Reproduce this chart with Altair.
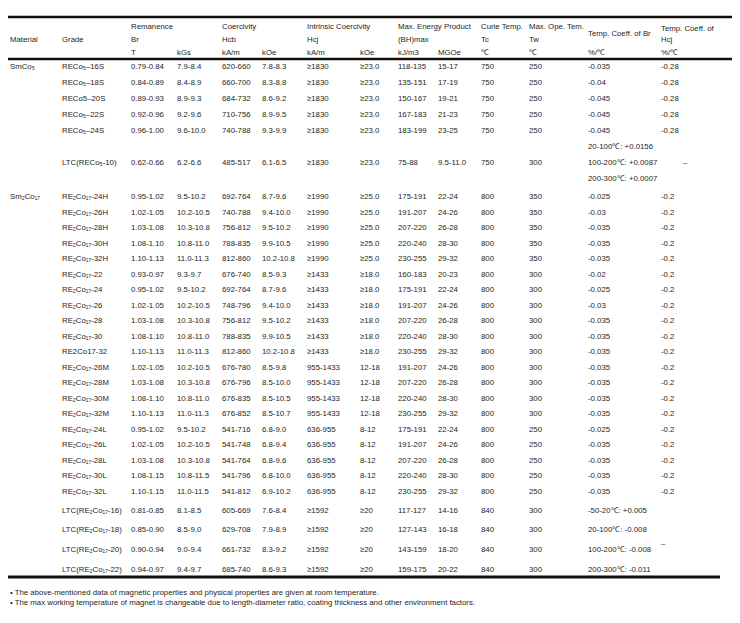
import altair as alt
import pandas as pd

# ---------------- data ----------------
materials = ["SmCo₅", "Sm₂Co₁₇"]

smco5_grade = ["RECo₅–16S", "RECo₅–18S", "RECo5–20S", "RECo₅–22S", "RECo₅–24S", "LTC(RECo₅-10)"]
smco5_br_t = ["0.79-0.84", "0.84-0.89", "0.89-0.93", "0.92-0.96", "0.96-1.00", "0.62-0.66"]
smco5_br_kgs = ["7.9-8.4", "8.4-8.9", "8.9-9.3", "9.2-9.6", "9.6-10.0", "6.2-6.6"]
smco5_hcb_ka = ["620-660", "660-700", "684-732", "710-756", "740-788", "485-517"]
smco5_hcb_koe = ["7.8-8.3", "8.3-8.8", "8.6-9.2", "8.9-9.5", "9.3-9.9", "6.1-6.5"]
smco5_hcj_ka = ["≥1830"] * 6
smco5_hcj_koe = ["≥23.0"] * 6
smco5_bh_kj = ["118-135", "135-151", "150-167", "167-183", "183-199", "75-88"]
smco5_bh_mgoe = ["15-17", "17-19", "19-21", "21-23", "23-25", "9.5-11.0"]
smco5_tc = ["750"] * 6
smco5_tw = ["250", "250", "250", "250", "250", "300"]
smco5_cbr = ["-0.035", "-0.04", "-0.045", "-0.045", "-0.045", "100-200℃: +0.0087"]
smco5_chcj = ["-0.28", "-0.28", "-0.28", "-0.28", "-0.28", ""]
smco5_ltc_extra = ["20-100℃: +0.0156", "200-300℃: +0.0007"]

sm2_grade = ["RE₂Co₁₇-24H", "RE₂Co₁₇-26H", "RE₂Co₁₇-28H", "RE₂Co₁₇-30H", "RE₂Co₁₇-32H",
             "RE₂Co₁₇-22", "RE₂Co₁₇-24", "RE₂Co₁₇-26", "RE₂Co₁₇-28", "RE₂Co₁₇-30", "RE2Co17-32",
             "RE₂Co₁₇-26M", "RE₂Co₁₇-28M", "RE₂Co₁₇-30M", "RE₂Co₁₇-32M",
             "RE₂Co₁₇-24L", "RE₂Co₁₇-26L", "RE₂Co₁₇-28L", "RE₂Co₁₇-30L", "RE₂Co₁₇-32L",
             "LTC(RE₂Co₁₇-16)", "LTC(RE₂Co₁₇-18)", "LTC(RE₂Co₁₇-20)", "LTC(RE₂Co₁₇-22)"]
sm2_br_t = ["0.95-1.02", "1.02-1.05", "1.03-1.08", "1.08-1.10", "1.10-1.13",
            "0.93-0.97", "0.95-1.02", "1.02-1.05", "1.03-1.08", "1.08-1.10", "1.10-1.13",
            "1.02-1.05", "1.03-1.08", "1.08-1.10", "1.10-1.13",
            "0.95-1.02", "1.02-1.05", "1.03-1.08", "1.08-1.15", "1.10-1.15",
            "0.81-0.85", "0.85-0.90", "0.90-0.94", "0.94-0.97"]
sm2_br_kgs = ["9.5-10.2", "10.2-10.5", "10.3-10.8", "10.8-11.0", "11.0-11.3",
              "9.3-9.7", "9.5-10.2", "10.2-10.5", "10.3-10.8", "10.8-11.0", "11.0-11.3",
              "10.2-10.5", "10.3-10.8", "10.8-11.0", "11.0-11.3",
              "9.5-10.2", "10.2-10.5", "10.3-10.8", "10.8-11.5", "11.0-11.5",
              "8.1-8.5", "8.5-9.0", "9.0-9.4", "9.4-9.7"]
sm2_hcb_ka = ["692-764", "740-788", "756-812", "788-835", "812-860",
              "676-740", "692-764", "748-796", "756-812", "788-835", "812-860",
              "676-780", "676-796", "676-835", "676-852",
              "541-716", "541-748", "541-764", "541-796", "541-812",
              "605-669", "629-708", "661-732", "685-740"]
sm2_hcb_koe = ["8.7-9.6", "9.4-10.0", "9.5-10.2", "9.9-10.5", "10.2-10.8",
               "8.5-9.3", "8.7-9.6", "9.4-10.0", "9.5-10.2", "9.9-10.5", "10.2-10.8",
               "8.5-9.8", "8.5-10.0", "8.5-10.5", "8.5-10.7",
               "6.8-9.0", "6.8-9.4", "6.8-9.6", "6.8-10.0", "6.9-10.2",
               "7.6-8.4", "7.9-8.9", "8.3-9.2", "8.6-9.3"]
sm2_hcj_ka = ["≥1990"] * 5 + ["≥1433"] * 6 + ["955-1433"] * 4 + ["636-955"] * 5 + ["≥1592"] * 4
sm2_hcj_koe = ["≥25.0"] * 5 + ["≥18.0"] * 6 + ["12-18"] * 4 + ["8-12"] * 5 + ["≥20"] * 4
sm2_bh_kj = ["175-191", "191-207", "207-220", "220-240", "230-255",
             "160-183", "175-191", "191-207", "207-220", "220-240", "230-255",
             "191-207", "207-220", "220-240", "230-255",
             "175-191", "191-207", "207-220", "220-240", "230-255",
             "117-127", "127-143", "143-159", "159-175"]
sm2_bh_mgoe = ["22-24", "24-26", "26-28", "28-30", "29-32",
               "20-23", "22-24", "24-26", "26-28", "28-30", "29-32",
               "24-26", "26-28", "28-30", "29-32",
               "22-24", "24-26", "26-28", "28-30", "29-32",
               "14-16", "16-18", "18-20", "20-22"]
sm2_tc = ["800"] * 20 + ["840"] * 4
sm2_tw = ["350"] * 5 + ["300"] * 10 + ["250"] * 5 + ["300"] * 4
sm2_cbr = ["-0.025", "-0.03", "-0.035", "-0.035", "-0.035",
           "-0.02", "-0.025", "-0.03", "-0.035", "-0.035", "-0.035",
           "-0.035", "-0.035", "-0.035", "-0.035",
           "-0.025", "-0.035", "-0.035", "-0.035", "-0.035",
           "-50-20℃: +0.005", "20-100℃: -0.008", "100-200℃: -0.008", "200-300℃: -0.011"]
sm2_chcj = ["-0.2"] * 20 + [""] * 4

header_top = ["Remanence", "Coercivity", "Intrinsic Coercivity", "Max. Energy Product", "Curie Temp.", "Max. Ope. Tem."]
header_mid = ["Br", "Hcb", "Hcj", "(BH)max", "Tc", "Tw"]
header_unit = ["T", "kGs", "kA/m", "kOe", "kA/m", "kOe", "kJ/m3", "MGOe", "℃", "℃", "%/℃", "%/℃"]

footnotes = ["• The above-mentioned data of magnetic properties and physical properties are given at room temperature.",
             "• The max working temperature of magnet is changeable due to length-diameter ratio, coating thickness and other environment factors."]

# ---------------- layout (page pixel positions) ----------------
cols = ["mat", "grade", "brt", "brk", "hcba", "hcbk", "hcja", "hcjk", "bhk", "bhm", "tc", "tw", "cbr", "chcj"]
col_x = dict(zip(cols, [10, 62, 131, 177, 222, 262, 307, 360, 398, 438, 481, 529, 588, 661]))

smco5_y = [67, 83, 99, 115, 131, 163]
smco5_extra_y = [147, 179]
sm2_y = [197 + 15.5 * i for i in range(20)] + [511, 530, 550, 570]

recs = []
def add(x, y, t, fs=7.8):
    if t:
        recs.append({"x": x, "y": y, "t": t, "fs": fs})

# headers
add(col_x["mat"], 40, "Material")
add(col_x["grade"], 40, "Grade")
for key, t in zip(["brt", "hcba", "hcja", "bhk", "tc", "tw"], header_top):
    add(col_x[key], 27, t)
for key, t in zip(["brt", "hcba", "hcja", "bhk", "tc", "tw"], header_mid):
    add(col_x[key], 40, t)
for key, t in zip(cols[2:], header_unit):
    add(col_x[key], 53, t)
add(col_x["cbr"], 34, "Temp. Coeff. of Br")
add(col_x["chcj"], 29, "Temp. Coeff. of")
add(col_x["chcj"], 40, "Hcj")

# body
groups = [
    (materials[0], smco5_y, [smco5_grade, smco5_br_t, smco5_br_kgs, smco5_hcb_ka, smco5_hcb_koe, smco5_hcj_ka,
                             smco5_hcj_koe, smco5_bh_kj, smco5_bh_mgoe, smco5_tc, smco5_tw, smco5_cbr, smco5_chcj]),
    (materials[1], sm2_y, [sm2_grade, sm2_br_t, sm2_br_kgs, sm2_hcb_ka, sm2_hcb_koe, sm2_hcj_ka,
                           sm2_hcj_koe, sm2_bh_kj, sm2_bh_mgoe, sm2_tc, sm2_tw, sm2_cbr, sm2_chcj]),
]
for mat, ys_, arrays in groups:
    add(col_x["mat"], ys_[0], mat)
    for i, y in enumerate(ys_):
        for key, arr in zip(cols[1:], arrays):
            add(col_x[key], y, arr[i])
for y, t in zip(smco5_extra_y, smco5_ltc_extra):
    add(col_x["cbr"], y, t)
add(683, 163, "–")
add(661, 544, "–")
add(10, 593, footnotes[0])
add(10, 603, footnotes[1])

df = pd.DataFrame(recs)

rules = pd.DataFrame({"x": [8, 8, 8], "x2": [732, 732, 720], "y": [17, 59, 577], "w": [2.5, 2.5, 3]})

xs = alt.Scale(domain=[8, 732], nice=False, zero=False)
ys = alt.Scale(domain=[8, 615], nice=False, zero=False, reverse=True)

text = alt.Chart(df).mark_text(align="left", baseline="middle", font="Liberation Sans",
                               color="#1e1e1e").encode(
    x=alt.X("x:Q", scale=xs, axis=None),
    y=alt.Y("y:Q", scale=ys, axis=None),
    text="t:N",
    size=alt.Size("fs:Q", scale=None, legend=None),
)

lines = alt.Chart(rules).mark_rule(color="#111111").encode(
    x=alt.X("x:Q", scale=xs, axis=None),
    x2="x2:Q",
    y=alt.Y("y:Q", scale=ys, axis=None),
    strokeWidth=alt.StrokeWidth("w:Q", scale=None, legend=None),
)

chart = alt.layer(lines, text).properties(
    width=724, height=607, padding=0, autosize=alt.AutoSizeParams(type="none"),
    background="white",
).configure_view(stroke=None)

chart.save("out.html", embed_options={"renderer": "svg", "actions": False})
